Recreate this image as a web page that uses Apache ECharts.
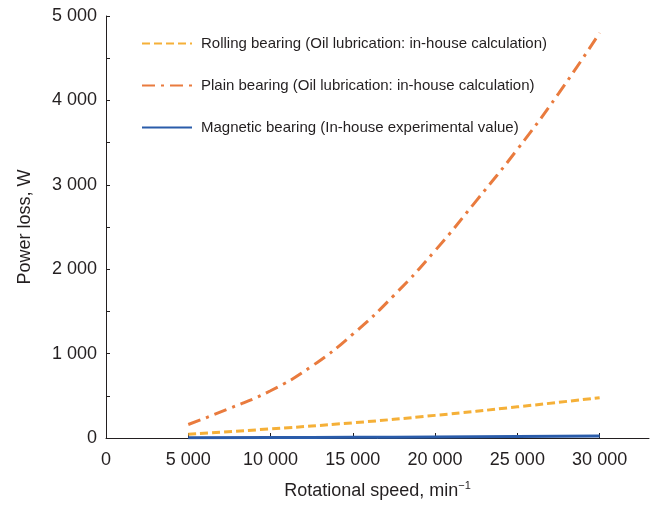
<!DOCTYPE html>
<html>
<head>
<meta charset="utf-8">
<script src="https://cdn.jsdelivr.net/npm/echarts@6/dist/echarts.min.js"></script>
<style>
html,body{margin:0;padding:0;background:#fff;}
#chart{width:650px;height:507px;}
</style>
</head>
<body>
<div id="chart"></div>
<script>
// ---- data ----
var seriesNames = [
  'Rolling bearing (Oil lubrication: in-house calculation)',
  'Plain bearing (Oil lubrication: in-house calculation)',
  'Magnetic bearing (In-house experimental value)'
];
var rollingSpeed = [5000, 10000, 15000, 20000, 25000, 30000];
var rollingLoss  = [45, 108, 180, 268, 369, 478];
var plainSpeed = [5000, 7500, 10000, 12500, 15000, 17500, 20000, 22500, 25000, 27500, 30000];
var plainLoss  = [160, 350, 560, 850, 1230, 1690, 2220, 2810, 3420, 4080, 4800];
var magSpeed = [5000, 10000, 15000, 20000, 25000, 30000];
var magLoss  = [2, 5, 8, 12, 17, 24];
var xTicks = [0, 5000, 10000, 15000, 20000, 25000, 30000];
var yTicks = [0, 1000, 2000, 3000, 4000, 5000];

function zip(a, b) { return a.map(function (v, i) { return [v, b[i]]; }); }
function fmt(v) { return String(v).replace(/\B(?=(\d{3})+(?!\d))/g, ' '); }

var textColor = '#231F20';
var font = 'Liberation Sans, Arial, sans-serif';

var chart = echarts.init(document.getElementById('chart'), null, {renderer: 'canvas'});
chart.setOption({
  animation: false,
  backgroundColor: '#fff',
  grid: {left: 106, right: 1, top: 16, bottom: 62, containLabel: false},
  legend: {
    orient: 'vertical',
    left: 136, top: 31,
    itemWidth: 50, itemHeight: 14, itemGap: 27,
    itemStyle: {opacity: 0},
    textStyle: {fontSize: 15, color: textColor, fontFamily: font, padding: [0, 0, 0, 4]},
    data: seriesNames
  },
  xAxis: {
    type: 'value',
    min: 0, max: 33000, interval: 5000,
    name: 'Rotational speed, min{sup|−1}',
    nameLocation: 'middle', nameGap: 42,
    nameTextStyle: {
      fontSize: 18, color: textColor, fontFamily: font, lineHeight: 22,
      rich: {sup: {fontSize: 11, color: textColor, fontFamily: font, verticalAlign: 'top', lineHeight: 11}}
    },
    axisLine: {show: true, lineStyle: {color: textColor, width: 1}},
    axisTick: {show: true, inside: true, length: 5, customValues: xTicks, lineStyle: {color: textColor}},
    axisLabel: {customValues: xTicks, formatter: fmt, fontSize: 18, color: textColor, fontFamily: font, margin: 13},
    splitLine: {show: false}
  },
  yAxis: {
    type: 'value',
    min: 0, max: 5000, interval: 1000,
    name: 'Power loss, W',
    nameLocation: 'middle', nameGap: 72,
    nameTextStyle: {fontSize: 18, color: textColor, fontFamily: font},
    axisLine: {show: true, lineStyle: {color: textColor, width: 1}},
    axisTick: {show: true, inside: true, length: 4, lineStyle: {color: textColor}},
    minorTick: {show: true, splitNumber: 2, length: 4, lineStyle: {color: textColor}},
    axisLabel: {formatter: fmt, fontSize: 18, color: textColor, fontFamily: font, margin: 9},
    splitLine: {show: false}
  },
  series: [
    {
      name: seriesNames[0], type: 'line', showSymbol: false, symbol: 'none', smooth: true,
      data: zip(rollingSpeed, rollingLoss),
      itemStyle: {color: '#F5B038'},
      lineStyle: {color: '#F5B038', width: 3, type: [8, 4]},
      z: 3
    },
    {
      name: seriesNames[1], type: 'line', showSymbol: false, symbol: 'none', smooth: true,
      data: zip(plainSpeed, plainLoss),
      itemStyle: {color: '#E97B3E'},
      lineStyle: {color: '#E97B3E', width: 3, type: [13, 6, 3, 6]},
      z: 3
    },
    {
      name: seriesNames[2], type: 'line', showSymbol: false, symbol: 'none', smooth: true,
      data: zip(magSpeed, magLoss),
      itemStyle: {color: '#2A5CAA'},
      lineStyle: {color: '#2A5CAA', width: 3, type: 'solid'},
      z: 2
    }
  ]
});
</script>
</body>
</html>
